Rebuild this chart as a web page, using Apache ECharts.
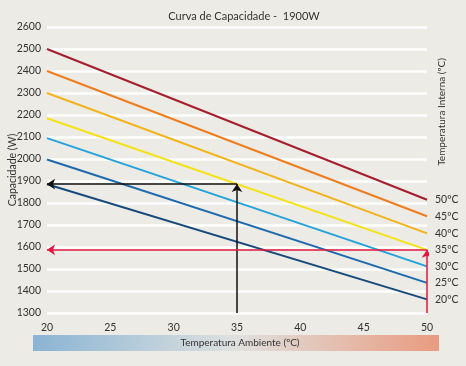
<!DOCTYPE html>
<html><head><meta charset="utf-8">
<script src="https://cdn.jsdelivr.net/npm/echarts@6/dist/echarts.min.js"></script>
<style>html,body{margin:0;padding:0;background:#ecebe5;}#c{width:466px;height:366px;}</style>
</head><body><div id="c"></div>
<script>
const xCategories = [20, 50];
const seriesNames = ['50ºC','45ºC','40ºC','35ºC','30ºC','25ºC','20ºC'];
const startValues = [2500, 2400, 2300, 2185, 2095, 1998, 1885];
const endValues   = [1815, 1740, 1662, 1587, 1512, 1437, 1362];
const xTicks = [20, 25, 30, 35, 40, 45, 50];
const yTicks = [1300, 2600, 100];
const exampleAmbient = 35, exampleCapacity = 1886;
const ratedAmbient = 50, ratedCapacity = 1587;
const colors = ['#a51d2f','#ee7d1d','#f3b31b','#f4e214','#23a2dc','#1d6aae','#174a7c'];

const chart = echarts.init(document.getElementById('c'));
const FONT = 'Lato';
const series = seriesNames.map((n, i) => ({
  name: n, type: 'line', symbol: 'none',
  data: [[xCategories[0], startValues[i]], [xCategories[1], endValues[i]]],
  lineStyle: {color: colors[i], width: 2},
  endLabel: {show: true, formatter: n, color: '#333', fontFamily: FONT, fontSize: 10.5, distance: 8},
  z: 3
}));
series.push({
  type: 'lines', coordinateSystem: 'cartesian2d', z: 5,
  symbol: ['none', 'arrow'], symbolSize: 8,
  lineStyle: {color: '#111', width: 1.5, opacity: 1},
  data: [
    {coords: [[exampleAmbient, yTicks[0]], [exampleAmbient, exampleCapacity]]},
    {coords: [[exampleAmbient, exampleCapacity], [xCategories[0], exampleCapacity]]}
  ]
});
series.push({
  type: 'lines', coordinateSystem: 'cartesian2d', z: 5,
  symbol: ['none', 'arrow'], symbolSize: 8,
  lineStyle: {color: '#e5173f', width: 1.5, opacity: 1},
  data: [
    {coords: [[ratedAmbient, yTicks[0]], [ratedAmbient, ratedCapacity]]},
    {coords: [[ratedAmbient, ratedCapacity], [xCategories[0], ratedCapacity]]}
  ]
});

chart.setOption({
  backgroundColor: '#ecebe5',
  animation: false,
  title: {text: 'Curva de Capacidade -  1900W', left: 239, top: 6, textAlign: 'center',
    textStyle: {fontFamily: FONT, fontSize: 11, fontWeight: 'normal', color: '#333'}},
  grid: {left: 47, right: 39, top: 27, bottom: 53, containLabel: false, outerBoundsMode: 'none'},
  xAxis: {type: 'value', min: xTicks[0], max: xTicks[xTicks.length-1], interval: 5,
    axisLine: {show: false}, axisTick: {show: false}, splitLine: {show: false},
    axisLabel: {color: '#333', fontFamily: FONT, fontSize: 10.5, margin: 9}},
  yAxis: {type: 'value', min: yTicks[0], max: yTicks[1], interval: yTicks[2],
    name: 'Capacidade (W)', nameLocation: 'middle', nameGap: 29, nameMoveOverlap: false,
    nameTextStyle: {color: '#333', fontFamily: FONT, fontSize: 10.5},
    axisLine: {show: false}, axisTick: {show: false},
    splitLine: {lineStyle: {color: '#ffffff', width: 2.5}},
    axisLabel: {color: '#333', fontFamily: FONT, fontSize: 10.5, margin: 6, formatter: v => String(v)}},
  graphic: [
    {type: 'rect', left: 33, top: 335, shape: {width: 406, height: 16},
      style: {fill: new echarts.graphic.LinearGradient(0, 0, 1, 0, [
        {offset: 0, color: '#8ab4d4'}, {offset: 0.5, color: '#dfe1df'}, {offset: 1, color: '#e99b80'}])}},
    {type: 'text', x: 240, y: 343, style: {text: 'Temperatura Ambiente (ºC)', fill: '#333', font: '10px Lato', align: 'center', verticalAlign: 'middle'}},
    {type: 'text', x: 442, y: 112, rotation: Math.PI/2, style: {text: 'Temperatura Interna (ºC)', fill: '#333', font: '10px Lato', align: 'center', verticalAlign: 'middle'}}
  ],
  series: series
});
</script></body></html>
